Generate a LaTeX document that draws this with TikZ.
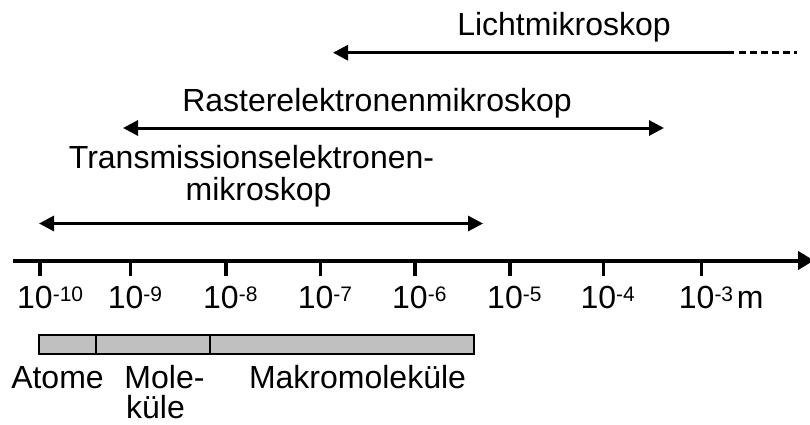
\documentclass[tikz,border=0pt]{standalone}
\usepackage{fontspec}
\setmainfont{Liberation Sans}
\usetikzlibrary{arrows.meta}
\definecolor{barfill}{RGB}{192,192,192}
% raised, smaller exponent for the scale labels
\newcommand{\expo}[1]{\raisebox{7pt}{\fontsize{21}{21}\selectfont #1}}
\begin{document}
\begin{tikzpicture}[x=1pt,y=-1pt,
  lbl/.style={font=\fontsize{32}{33}\selectfont, inner sep=0pt, anchor=base},
  spanline/.style={line width=3pt, {Triangle[length=15pt,width=15pt]}-{Triangle[length=15pt,width=15pt]}},
  leftspan/.style={line width=3pt, {Triangle[length=15pt,width=15pt]}-},
  axisline/.style={line width=4pt, -{Triangle[length=16pt,width=18pt]}},
  tickmark/.style={line width=3.5pt},
  cell/.style={draw=black, fill=barfill, line width=1.8pt},
  tail/.style={line width=3pt, dash pattern=on 7pt off 4pt}]
\useasboundingbox (0,0) rectangle (810,425);

% microscope ranges
\node[lbl] (licht) at (564,36) {Lichtmikroskop};
\coordinate (lichtL) at (333,52.7);
\coordinate (lichtR) at (734,52.7);
\coordinate (lichtD) at (739,52.7);
\coordinate (lichtE) at (797,52.7);
\draw[leftspan] (lichtL) -- (lichtR);
\draw[tail] (lichtD) -- (lichtE);

\node[lbl] (rem) at (377,111) {Rasterelektronenmikroskop};
\coordinate (remL) at (123,128);
\coordinate (remR) at (664,128);
\draw[spanline] (remL) -- (remR);

\node[lbl] (tem1) at (251.5,168) {Transmissionselektronen-};
\node[lbl] (tem2) at (258.5,200) {mikroskop};
\coordinate (temL) at (39,223.5);
\coordinate (temR) at (483,223.5);
\draw[spanline] (temL) -- (temR);

% length axis
\coordinate (axL) at (13,260.5);
\coordinate (axR) at (814,260.5);
\draw[axisline] (axL) -- (axR);

\foreach \x/\e [count=\i] in {40/-10, 130.7/-9, 226/-8, 320.7/-7, 415/-6, 510/-5, 603.3/-4, 701.7/-3} {
  \coordinate (t\i) at (\x,260.5);
  \draw[tickmark] (t\i) -- ++(0,15);
  \node[lbl, anchor=base west] (l\i) at (\x-23,308) {10\expo{\e}};
}
\node[lbl, anchor=base west] (unit) at (736.7,308) {m};

% size classes
\draw[cell] (39,335) rectangle (96,354);
\draw[cell] (96,335) rectangle (210,354);
\draw[cell] (210,335) rectangle (474,354);
\node[lbl] (atome) at (57.5,388) {Atome};
\node[lbl] (mole) at (164.5,388) {Mole-};
\node[lbl] (kuele) at (155.5,418) {küle};
\node[lbl] (makro) at (357.5,388) {Makromoleküle};
\end{tikzpicture}
\end{document}
